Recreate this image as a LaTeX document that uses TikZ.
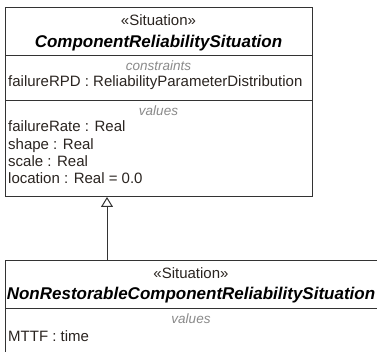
\documentclass[tikz,border=0pt]{standalone}
\usepackage{fontspec}
\setmainfont{Liberation Sans}
\usetikzlibrary{arrows.meta}
\definecolor{txt}{HTML}{2A2420}
\definecolor{cmp}{HTML}{8A8A8A}
\definecolor{ln}{HTML}{333333}
\begin{document}
\begin{tikzpicture}[x=1pt,y=-1pt,
  box/.style={draw=ln,line width=1pt,fill=white,inner sep=0pt,outer sep=0pt,anchor=north west},
  stereo/.style={font=\fontsize{15}{17}\selectfont,text=txt,inner sep=0pt,text height=11pt,text depth=3pt},
  title/.style={font=\fontsize{17}{19}\selectfont\bfseries\itshape,text=black,inner sep=0pt,text height=12.5pt,text depth=3.5pt},
  comp/.style={font=\fontsize{13.5}{15}\selectfont\itshape,text=cmp,inner sep=0pt,text height=10pt,text depth=3pt},
  attr/.style={font=\fontsize{15}{17}\selectfont,text=txt,inner sep=0pt,anchor=west,text height=11pt,text depth=3pt},
  divider/.style={draw=ln,line width=1pt},
  gen/.style={draw=ln,line width=1pt,-{Triangle[open,width=12pt,length=10pt,fill=white]}}]
\useasboundingbox (0,0) rectangle (377,352);
\begin{scope}
\clip (0,0) rectangle (377,352);
% top class
\node[box,minimum width=307pt,minimum height=189pt] (top) at (5,8) {};
\draw[divider] (5,56) -- (312,56);
\draw[divider] (5,100.5) -- (312,100.5);
\node[stereo] (ts) at (158.5,22) {«Situation»};
\node[title] (tt) at (158.5,43) {ComponentReliabilitySituation};
\node[comp] (tc) at (158.5,67) {constraints};
\node[attr] (ta1) at (8,83) {failureRPD : ReliabilityParameterDistribution};
\node[comp] (tv) at (158.5,112) {values};
\node[attr] (ta2) at (8,128) {failureRate : Real};
\node[attr] (ta3) at (8,146) {shape : Real};
\node[attr] (ta4) at (8,163) {scale : Real};
\node[attr] (ta5) at (8,180) {location : Real = 0.0};
% bottom class
\node[box,minimum width=374pt,minimum height=110pt] (bot) at (5,261) {};
\draw[divider] (5,308.5) -- (379,308.5);
\node[stereo] (bs) at (191,275) {«Situation»};
\node[title] (bt) at (191,295) {NonRestorableComponentReliabilitySituation};
\node[comp] (bv) at (191,320) {values};
\node[attr] (ba1) at (8,337) {MTTF : time};
% generalization
\coordinate (g) at (107,261);
\draw[gen] (g) -- (g |- top.south);
\end{scope}
\end{tikzpicture}
\end{document}
